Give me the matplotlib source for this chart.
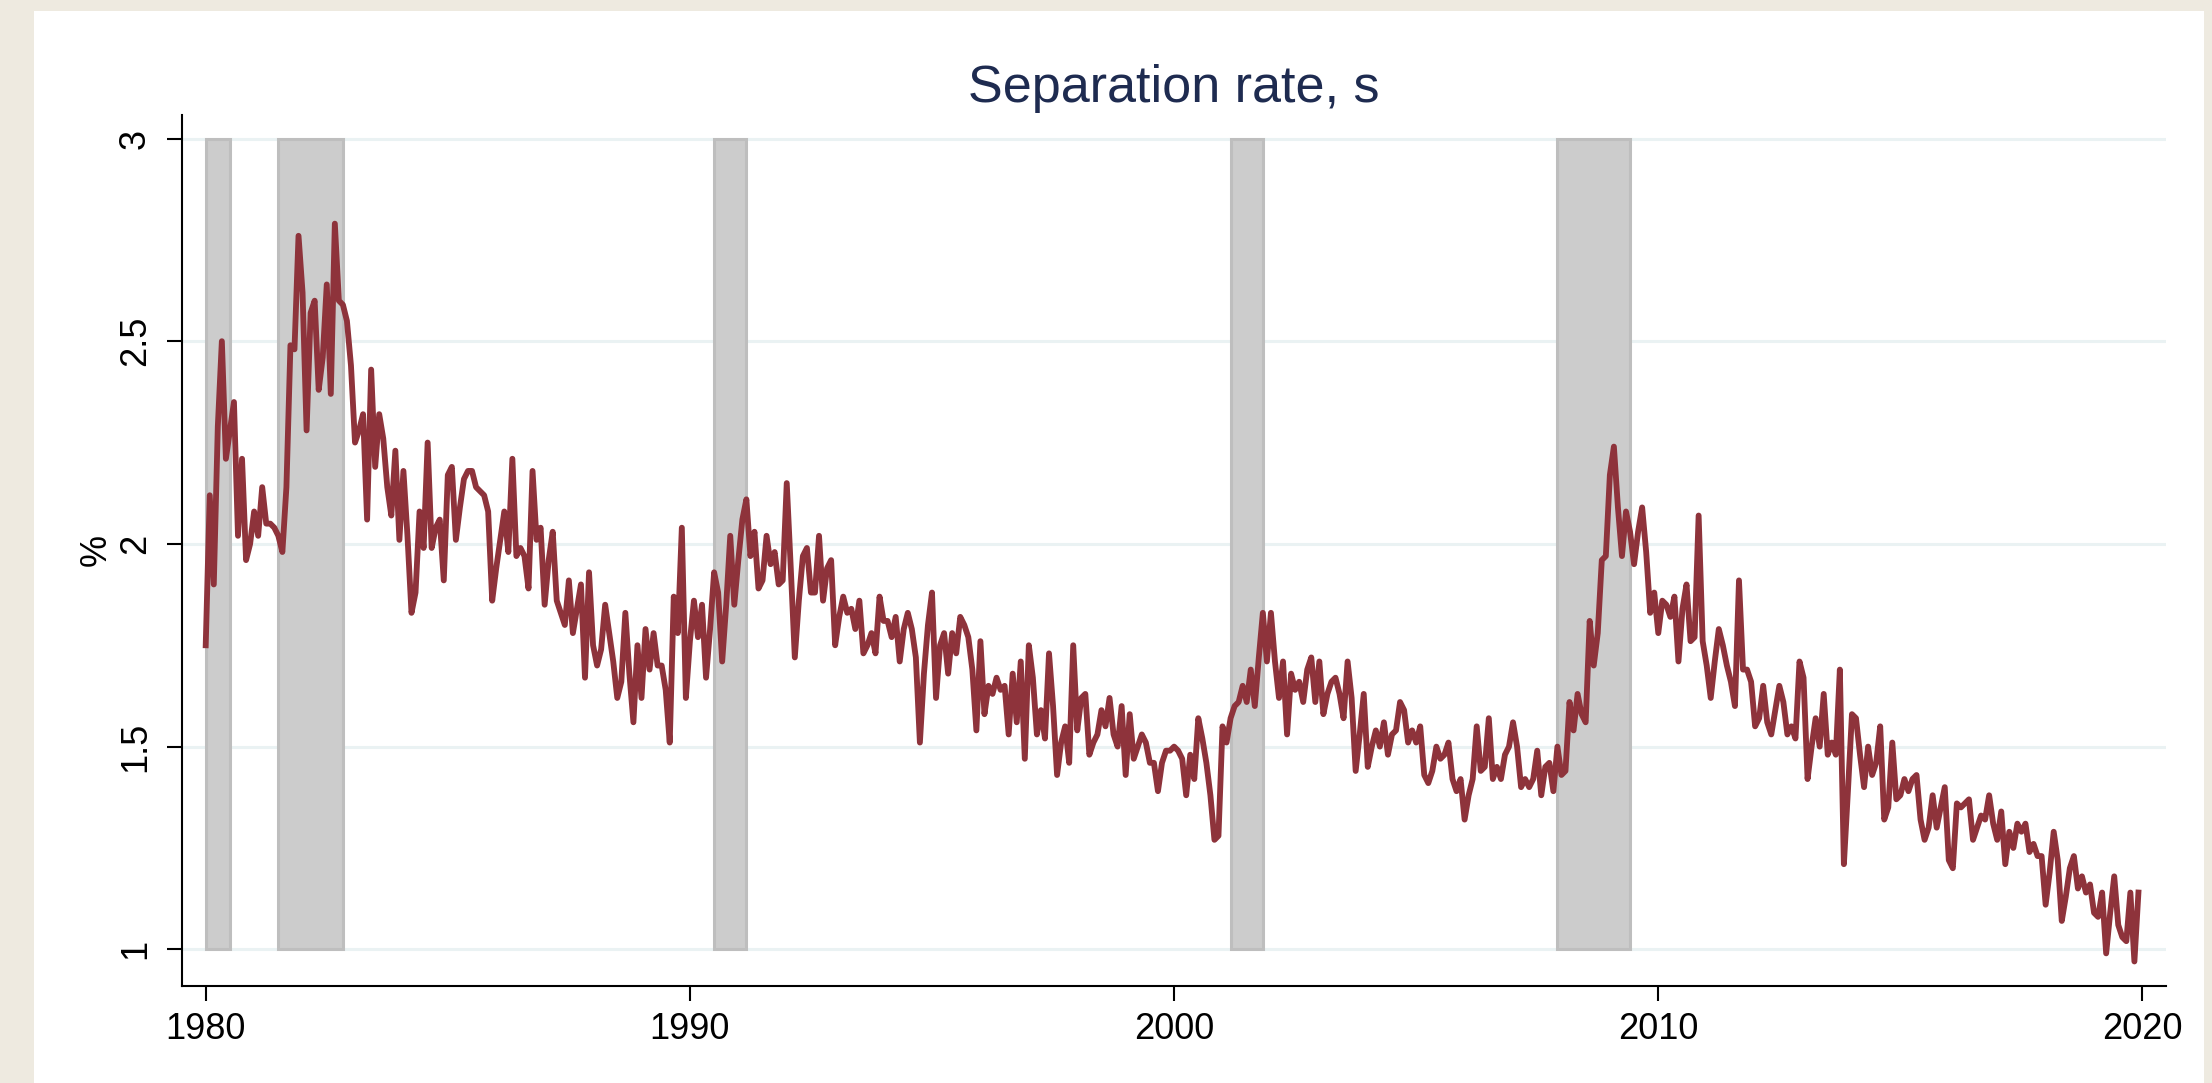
import numpy as np
import matplotlib
matplotlib.use("Agg")
import matplotlib.pyplot as plt
from matplotlib.patches import Rectangle

# ---------------- data ----------------
start_year = 1980
sep_1980s = [1.75, 2.12, 1.90, 2.29, 2.50, 2.21, 2.28, 2.35, 2.02, 2.21, 1.96, 2.00,
             2.08, 2.02, 2.14, 2.05, 2.05, 2.04, 2.02, 1.98, 2.14, 2.49, 2.48, 2.76,
             2.62, 2.28, 2.57, 2.60, 2.38, 2.46, 2.64, 2.37, 2.79, 2.60, 2.59, 2.55,
             2.44, 2.25, 2.28, 2.32, 2.06, 2.43, 2.19, 2.32, 2.26, 2.14, 2.07, 2.23,
             2.01, 2.18, 2.02, 1.83, 1.88, 2.08, 1.99, 2.25, 1.99, 2.04, 2.06, 1.91,
             2.17, 2.19, 2.01, 2.09, 2.16, 2.18, 2.18, 2.14, 2.13, 2.12, 2.08, 1.86,
             1.94, 2.01, 2.08, 1.98, 2.21, 1.97, 1.99, 1.97, 1.89, 2.18, 2.01, 2.04,
             1.85, 1.96, 2.03, 1.86, 1.83, 1.80, 1.91, 1.78, 1.84, 1.90, 1.67, 1.93,
             1.75, 1.70, 1.74, 1.85, 1.78, 1.71, 1.62, 1.66, 1.83, 1.68, 1.56, 1.75,
             1.62, 1.79, 1.69, 1.78, 1.70, 1.70, 1.64, 1.51, 1.87, 1.78, 2.04, 1.62]
sep_1990s = [1.76, 1.86, 1.77, 1.85, 1.67, 1.79, 1.93, 1.88, 1.71, 1.85, 2.02, 1.85,
             1.96, 2.06, 2.11, 1.97, 2.03, 1.89, 1.91, 2.02, 1.95, 1.98, 1.90, 1.91,
             2.15, 1.94, 1.72, 1.86, 1.97, 1.99, 1.88, 1.88, 2.02, 1.86, 1.94, 1.96,
             1.75, 1.82, 1.87, 1.83, 1.84, 1.79, 1.86, 1.73, 1.75, 1.78, 1.73, 1.87,
             1.81, 1.81, 1.77, 1.82, 1.71, 1.79, 1.83, 1.79, 1.72, 1.51, 1.68, 1.80,
             1.88, 1.62, 1.75, 1.78, 1.68, 1.78, 1.73, 1.82, 1.80, 1.77, 1.69, 1.54,
             1.76, 1.58, 1.65, 1.63, 1.67, 1.64, 1.65, 1.53, 1.68, 1.56, 1.71, 1.47,
             1.75, 1.67, 1.53, 1.59, 1.52, 1.73, 1.60, 1.43, 1.51, 1.55, 1.46, 1.75,
             1.54, 1.62, 1.63, 1.48, 1.51, 1.53, 1.59, 1.55, 1.62, 1.53, 1.50, 1.60,
             1.43, 1.58, 1.47, 1.50, 1.53, 1.51, 1.46, 1.46, 1.39, 1.46, 1.49, 1.49]
sep_2000s = [1.50, 1.49, 1.47, 1.38, 1.48, 1.42, 1.57, 1.52, 1.46, 1.38, 1.27, 1.28,
             1.55, 1.51, 1.57, 1.60, 1.61, 1.65, 1.61, 1.69, 1.60, 1.72, 1.83, 1.71,
             1.83, 1.71, 1.62, 1.71, 1.53, 1.68, 1.64, 1.66, 1.61, 1.69, 1.72, 1.61,
             1.71, 1.58, 1.63, 1.66, 1.67, 1.63, 1.57, 1.71, 1.62, 1.44, 1.53, 1.63,
             1.45, 1.50, 1.54, 1.50, 1.56, 1.48, 1.53, 1.54, 1.61, 1.59, 1.51, 1.54,
             1.51, 1.55, 1.43, 1.41, 1.44, 1.50, 1.47, 1.48, 1.51, 1.42, 1.39, 1.42,
             1.32, 1.38, 1.42, 1.55, 1.44, 1.45, 1.57, 1.42, 1.45, 1.42, 1.48, 1.50,
             1.56, 1.50, 1.40, 1.42, 1.40, 1.42, 1.49, 1.38, 1.45, 1.46, 1.39, 1.50,
             1.43, 1.44, 1.61, 1.54, 1.63, 1.58, 1.56, 1.81, 1.70, 1.78, 1.96, 1.97,
             2.17, 2.24, 2.09, 1.97, 2.08, 2.03, 1.95, 2.03, 2.09, 1.98, 1.83, 1.88]
sep_2010s = [1.78, 1.86, 1.85, 1.82, 1.87, 1.71, 1.84, 1.90, 1.76, 1.77, 2.07, 1.76,
             1.70, 1.62, 1.71, 1.79, 1.75, 1.70, 1.66, 1.60, 1.91, 1.69, 1.69, 1.66,
             1.55, 1.57, 1.65, 1.56, 1.53, 1.59, 1.65, 1.61, 1.53, 1.55, 1.52, 1.71,
             1.67, 1.42, 1.50, 1.57, 1.50, 1.63, 1.48, 1.51, 1.48, 1.69, 1.21, 1.39,
             1.58, 1.57, 1.48, 1.40, 1.50, 1.43, 1.46, 1.55, 1.32, 1.35, 1.51, 1.37,
             1.38, 1.42, 1.39, 1.42, 1.43, 1.32, 1.27, 1.30, 1.38, 1.30, 1.35, 1.40,
             1.22, 1.20, 1.36, 1.35, 1.36, 1.37, 1.27, 1.30, 1.33, 1.32, 1.38, 1.31,
             1.27, 1.34, 1.21, 1.29, 1.25, 1.31, 1.29, 1.31, 1.24, 1.26, 1.23, 1.23,
             1.11, 1.19, 1.29, 1.22, 1.07, 1.13, 1.20, 1.23, 1.15, 1.18, 1.14, 1.16,
             1.09, 1.08, 1.14, 0.99, 1.09, 1.18, 1.06, 1.03, 1.02, 1.14, 0.97, 1.14]

# NBER recessions (decimal years: year + (month-1)/12)
rec_start = [1980 + 0 / 12, 1981 + 6 / 12, 1990 + 6 / 12, 2001 + 2 / 12, 2007 + 11 / 12]
rec_end = [1980 + 6 / 12, 1982 + 10 / 12, 1991 + 2 / 12, 2001 + 10 / 12, 2009 + 5 / 12]

y_ticks = [1, 1.5, 2, 2.5, 3]
y_ticklabels = ["1", "1.5", "2", "2.5", "3"]
x_ticks = [1980, 1990, 2000, 2010, 2020]
title = "Separation rate, s"
ylabel = "%"

# ---------------- plot ----------------
plt.rcParams['font.family'] = ['Liberation Sans', 'DejaVu Sans']

W, H = 2212, 1083
fig = plt.figure(figsize=(W / 100, H / 100), dpi=100)
fig.patch.set_facecolor('#EEEAE0')
bg = Rectangle((34 / W, 0), (2204 - 34) / W, 1 - 11 / H,
               transform=fig.transFigure, facecolor='white',
               edgecolor='none', zorder=-10)
fig.patches.append(bg)

ax = fig.add_axes([181.7 / W, 1 - 986 / H, (2166 - 181.7) / W, (986 - 115) / H])
ax.set_zorder(5)
ax.set_facecolor('white')

series = np.array(sep_1980s + sep_1990s + sep_2000s + sep_2010s)
t = start_year + np.arange(len(series)) / 12.0

for g in y_ticks:
    ax.axhline(g, color='#EAF2F3', lw=2.2, zorder=0.5)

for s, e in zip(rec_start, rec_end):
    ax.bar(s, 3 - 1, width=e - s, bottom=1, align='edge', color='#CCCCCC',
           edgecolor='#BEBEBE', linewidth=2.2, zorder=1)

ax.plot(t, series, color='#8E333B', lw=4.2, zorder=3, solid_joinstyle='round')

ax.set_xlim(1979.504, 2020.486)
ax.set_ylim(0.9095, 3.058)

for sp in ['top', 'right']:
    ax.spines[sp].set_visible(False)
for sp in ['left', 'bottom']:
    ax.spines[sp].set_color('black')
    ax.spines[sp].set_linewidth(1.5)

ax.tick_params(axis='both', direction='out', length=10.8, width=1.5,
               colors='black')
ax.tick_params(axis='x', pad=8)
ax.tick_params(axis='y', pad=10)
ax.set_yticks(y_ticks)
ax.set_yticklabels(y_ticklabels, rotation=90, va='center', fontsize=26)
ax.set_xticks(x_ticks)
ax.set_xticklabels([str(x) for x in x_ticks], fontsize=26)

ax_center = (181.7 + 2166) / 2
fig.text(ax_center / W, 1 - 102 / H, title, ha='center', va='baseline',
         fontsize=37.5, color='#1E2B50')
fig.text(96 / W, 1 - 550 / H, ylabel, ha='center', va='center', rotation=90,
         fontsize=26, color='black')

fig.savefig('out.png', dpi=100, facecolor=fig.get_facecolor())
